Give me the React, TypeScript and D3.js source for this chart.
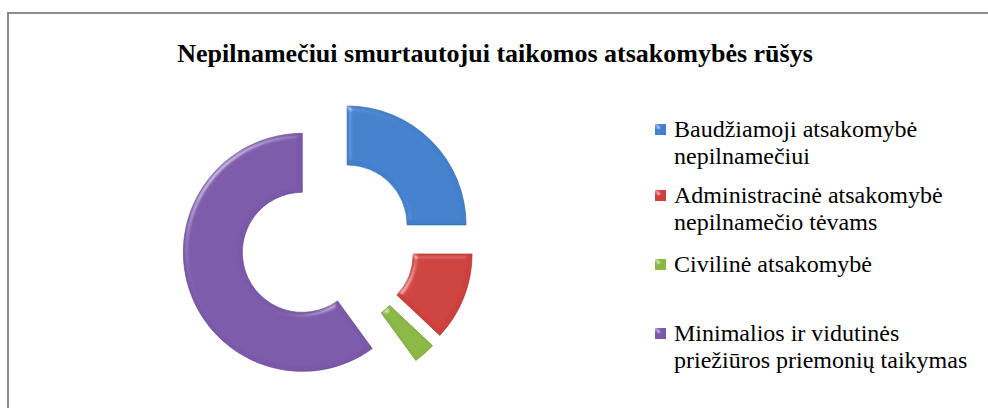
import React, { useRef, useEffect } from 'react';
import * as d3 from 'd3';

const title = 'Nepilnamečiui smurtautojui taikomos atsakomybės rūšys';
const categories = [
  'Baudžiamoji atsakomybė nepilnamečiui',
  'Administracinė atsakomybė nepilnamečio tėvams',
  'Civilinė atsakomybė',
  'Minimalios ir vidutinės priežiūros priemonių taikymas',
];
const legendLines = [
  ['Baudžiamoji atsakomybė', 'nepilnamečiui'],
  ['Administracinė atsakomybė', 'nepilnamečio tėvams'],
  ['Civilinė atsakomybė'],
  ['Minimalios ir vidutinės', 'priežiūros priemonių taikymas'],
];
const values = [25, 12, 3, 60];
const colors = ['#4280CE', '#CE3F3C', '#8BB843', '#7B58AA'];

const FONT = '"Liberation Serif", "Times New Roman", Times, serif';

const App = () => {
  const svgRef = useRef(null);

  useEffect(() => {
    const width = 988;
    const height = 408;
    const cx = 328;
    const cy = 244;
    const outer = 119;
    const inner = 60;
    const explode = 27;

    const svg = d3.select(svgRef.current)
      .attr('width', width)
      .attr('height', height)
      .attr('font-family', FONT);
    svg.selectAll('*').remove();

    const defs = svg.append('defs');
    const bevel = defs.append('filter')
      .attr('id', 'bevel')
      .attr('x', '-10%').attr('y', '-10%')
      .attr('width', '120%').attr('height', '120%');
    bevel.append('feGaussianBlur')
      .attr('in', 'SourceAlpha')
      .attr('stdDeviation', 2.5)
      .attr('result', 'blur');
    const spec = bevel.append('feSpecularLighting')
      .attr('in', 'blur')
      .attr('surfaceScale', 3)
      .attr('specularConstant', 0.35)
      .attr('specularExponent', 30)
      .attr('lighting-color', '#ffffff')
      .attr('result', 'spec');
    spec.append('feDistantLight').attr('azimuth', 225).attr('elevation', 35);
    bevel.append('feComposite')
      .attr('in', 'spec').attr('in2', 'SourceAlpha')
      .attr('operator', 'in').attr('result', 'specIn');
    bevel.append('feComposite')
      .attr('in', 'SourceGraphic').attr('in2', 'specIn')
      .attr('operator', 'arithmetic')
      .attr('k1', 0).attr('k2', 1).attr('k3', 1).attr('k4', 0);

    // frame
    svg.append('path')
      .attr('d', `M8,${height} V13 H${width}`)
      .attr('fill', 'none')
      .attr('stroke', '#8c8c8c')
      .attr('stroke-width', 2);

    svg.append('text')
      .attr('x', 495)
      .attr('y', 62)
      .attr('text-anchor', 'middle')
      .attr('font-family', FONT)
      .attr('font-weight', 'bold')
      .attr('font-size', 26)
      .attr('fill', '#000')
      .text(title);

    const pie = d3.pie<number>().sort(null).value(d => d);
    const arc = d3.arc<d3.PieArcDatum<number>>()
      .innerRadius(inner)
      .outerRadius(outer);

    svg.append('g')
      .attr('transform', `translate(${cx},${cy})`)
      .selectAll('path')
      .data(pie(values))
      .enter().append('path')
      .attr('d', arc)
      .attr('transform', d => {
        const a = (d.startAngle + d.endAngle) / 2;
        return `translate(${explode * Math.sin(a)},${-explode * Math.cos(a)})`;
      })
      .attr('fill', (d, i) => colors[i])
      .attr('stroke', (d, i) => d3.color(colors[i]).darker(0.8).formatHex())
      .attr('stroke-opacity', 0.6)
      .attr('stroke-width', 1)
      .attr('filter', 'url(#bevel)');

    const itemY = [137, 203, 272, 341];
    const legend = svg.append('g');
    legendLines.forEach((lines, i) => {
      const g = legend.append('g').attr('transform', `translate(655,${itemY[i]})`);
      g.append('rect')
        .attr('x', 0).attr('y', -13)
        .attr('width', 11).attr('height', 11)
        .attr('fill', colors[i])
        .attr('filter', 'url(#bevel)');
      g.append('text')
        .attr('x', 19)
        .attr('font-family', FONT)
        .attr('font-size', 24)
        .attr('fill', '#000')
        .selectAll('tspan')
        .data(lines)
        .enter().append('tspan')
        .attr('x', 19)
        .attr('dy', (d, j) => j === 0 ? 0 : 27)
        .text(d => d);
      g.append('title').text(categories[i]);
    });
  }, []);

  return <svg ref={svgRef} style={{ position: 'absolute', left: 0, top: 0 }}></svg>;
};

export default App;
